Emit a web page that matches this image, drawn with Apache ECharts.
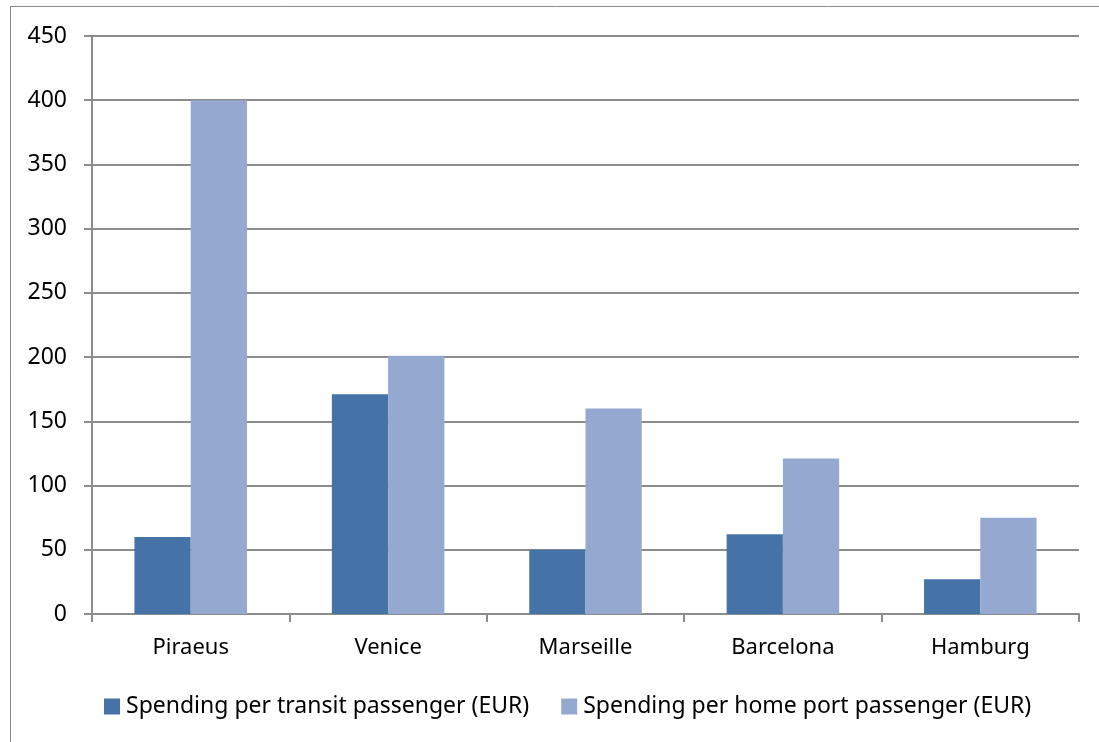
<!DOCTYPE html>
<html>
<head>
<meta charset="utf-8">
<script src="https://cdn.jsdelivr.net/npm/echarts@6/dist/echarts.min.js"></script>
<style>
  html, body { margin: 0; padding: 0; background: #ffffff; }
  #chart { width: 1099px; height: 742px; }
</style>
</head>
<body>
<div id="chart"></div>
<script>
// Cruise passenger spending by port
const ports = ['Piraeus', 'Venice', 'Marseille', 'Barcelona', 'Hamburg'];
const transitSpending = [60, 171, 50, 62, 27];
const homePortSpending = [400, 201, 160, 121, 75];
const seriesNames = ['Spending per transit passenger (EUR)', 'Spending per home port passenger (EUR)'];
const yTicks = { min: 0, max: 450, interval: 50 };

const FONT = 'Noto Sans';
const GRID_COLOR = '#8c8c8c';

const chart = echarts.init(document.getElementById('chart'), null, { renderer: 'canvas' });

chart.setOption({
  backgroundColor: '#ffffff',
  animation: false,
  graphic: [{
    type: 'rect',
    shape: { x: 10.5, y: 6.5, width: 1200, height: 800 },
    style: { fill: 'none', stroke: '#8a8a8a', lineWidth: 1 },
    z: -1
  }],
  grid: { left: 92, right: 20, top: 36, bottom: 128, containLabel: false },
  legend: {
    bottom: 19,
    left: 99,
    itemWidth: 16,
    itemHeight: 16,
    itemGap: 32,
    icon: 'rect',
    textStyle: { fontFamily: FONT, fontSize: 23, color: '#000000', padding: [0, 0, 0, 1] },
    data: seriesNames
  },
  xAxis: {
    type: 'category',
    data: ports,
    boundaryGap: true,
    axisLine: { show: true, lineStyle: { color: GRID_COLOR, width: 2 } },
    axisTick: { show: true, length: 8, alignWithLabel: false, lineStyle: { color: GRID_COLOR, width: 2 } },
    axisLabel: { fontFamily: FONT, fontSize: 22, color: '#000000', margin: 23 },
    splitLine: { show: false }
  },
  yAxis: {
    type: 'value',
    min: yTicks.min,
    max: yTicks.max,
    interval: yTicks.interval,
    axisLine: { show: true, lineStyle: { color: GRID_COLOR, width: 2 } },
    axisTick: { show: true, length: 8, lineStyle: { color: GRID_COLOR, width: 2 } },
    axisLabel: { fontFamily: FONT, fontSize: 23, color: '#000000', margin: 25 },
    splitLine: { show: true, lineStyle: { color: GRID_COLOR, width: 2 } }
  },
  series: [
    {
      name: seriesNames[0],
      type: 'bar',
      data: transitSpending,
      barGap: '0%',
      barCategoryGap: '43%',
      itemStyle: { color: '#4572a7' }
    },
    {
      name: seriesNames[1],
      type: 'bar',
      data: homePortSpending,
      barGap: '0%',
      barCategoryGap: '43%',
      itemStyle: { color: '#95a9d0' }
    }
  ]
});
</script>
</body>
</html>
